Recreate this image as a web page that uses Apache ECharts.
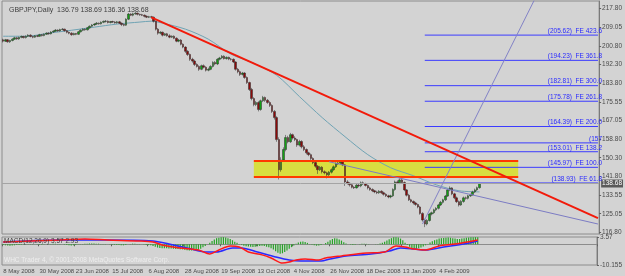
<!DOCTYPE html>
<html><head><meta charset="utf-8">
<script src="https://cdn.jsdelivr.net/npm/echarts@6/dist/echarts.min.js"></script>
<style>html,body{margin:0;padding:0;background:#d3d3d3}#c{width:625px;height:276px}</style>
</head><body><div id="c"></div>
<script>
const tickLabels = ["8 May 2008","30 May 2008","23 Jun 2008","15 Jul 2008","6 Aug 2008","28 Aug 2008","19 Sep 2008","13 Oct 2008","4 Nov 2008","26 Nov 2008","18 Dec 2008","13 Jan 2009","4 Feb 2009"];
const priceTicks = [217.80,209.05,200.80,192.30,183.80,175.55,167.05,158.80,150.30,141.80,133.55,125.05,116.80];
const macdTicks = [3.57,-10.155];
const opens = [203.5,202.9,203.5,202.6,203.2,203.8,204.4,203.9,204.6,205.0,
204.5,205.1,205.6,205.0,204.7,205.3,205.1,205.8,205.4,206.0,
206.5,206.2,207.0,207.4,207.9,207.5,208.1,208.3,207.6,206.9,
206.5,205.8,206.3,206.0,207.1,207.8,208.3,208.0,208.9,209.6,
210.2,210.6,211.0,210.7,211.4,211.8,211.9,211.3,211.7,211.5,
211.2,211.6,211.0,210.4,210.1,212.8,215.1,214.6,215.2,215.5,
215.0,214.8,214.6,214.1,213.7,213.9,213.7,211.9,208.3,206.5,
206.9,205.6,206.2,205.3,204.7,205.1,204.2,202.9,203.4,201.5,
200.2,198.3,196.9,194.7,193.9,192.4,191.5,190.2,191.8,191.1,
189.8,190.2,191.5,193.3,192.6,194.7,195.3,196.1,195.0,195.6,
194.8,194.7,193.5,190.2,189.1,187.9,188.5,186.5,184.2,181.1,
177.0,174.3,175.2,172.1,176.0,177.5,176.2,175.2,173.9,171.2,
168.4,158.5,144.9,149.3,154.0,159.4,157.5,160.7,159.2,158.5,
156.0,157.6,155.2,154.0,152.5,151.7,150.0,148.1,146.5,144.9,
146.0,144.0,143.5,142.6,143.8,144.9,146.2,147.6,147.9,148.5,
147.1,139.4,138.8,138.1,137.0,136.7,137.9,137.6,139.0,138.5,
137.8,136.7,136.0,135.4,134.9,134.5,135.2,134.5,133.8,133.1,
132.6,133.1,136.0,139.4,139.0,140.3,139.1,135.8,133.4,131.3,
130.6,129.9,129.2,128.1,125.2,122.2,120.4,122.0,124.9,125.5,
126.8,127.5,129.0,130.2,131.3,133.0,135.8,136.7,134.0,132.2,
130.5,129.0,130.6,132.2,132.0,133.1,133.6,134.9,135.8,136.79];
const closes = [202.9,203.5,202.6,203.2,203.8,204.4,203.9,204.6,205.0,204.5,
205.1,205.6,205.0,204.7,205.3,205.1,205.8,205.4,206.0,206.5,
206.2,207.0,207.4,207.9,207.5,208.1,208.3,207.6,206.9,206.5,
205.8,206.3,206.0,207.1,207.8,208.3,208.0,208.9,209.6,210.2,
210.6,211.0,210.7,211.4,211.8,211.9,211.3,211.7,211.5,211.2,
211.6,211.0,210.4,210.1,212.8,215.1,214.6,215.2,215.5,215.0,
214.8,214.6,214.1,213.7,213.9,213.7,211.9,208.3,206.5,206.9,
205.6,206.2,205.3,204.7,205.1,204.2,202.9,203.4,201.5,200.2,
198.3,196.9,194.7,193.9,192.4,191.5,190.2,191.8,191.1,189.8,
190.2,191.5,193.3,192.6,194.7,195.3,196.1,195.0,195.6,194.8,
194.7,193.5,190.2,189.1,187.9,188.5,186.5,184.2,181.1,177.0,
174.3,175.2,172.1,176.0,177.5,176.2,175.2,173.9,171.2,168.4,
158.5,144.9,149.3,154.0,159.4,157.5,160.7,159.2,158.5,156.0,
157.6,155.2,154.0,152.5,151.7,150.0,148.1,146.5,144.9,146.0,
144.0,143.5,142.6,143.8,144.9,146.2,147.6,147.9,148.5,147.1,
139.4,138.8,138.1,137.0,136.7,137.9,137.6,139.0,138.5,137.8,
136.7,136.0,135.4,134.9,134.5,135.2,134.5,133.8,133.1,132.6,
133.1,136.0,139.4,139.0,140.3,139.1,135.8,133.4,131.3,130.6,
129.9,129.2,128.1,125.2,122.2,120.4,122.0,124.9,125.5,126.8,
127.5,129.0,130.2,131.3,133.0,135.8,136.7,134.0,132.2,130.5,
129.0,130.6,132.2,132.0,133.1,133.6,134.9,135.8,136.8,138.68];
const highs = [204.0,203.9,203.8,203.5,204.2,204.8,204.8,204.9,205.4,205.3,
205.5,206.0,206.0,205.3,205.6,205.7,206.2,206.1,206.4,206.9,
206.9,207.4,207.8,208.3,208.2,208.5,208.8,208.5,207.9,207.2,
206.9,206.7,206.6,207.5,208.2,208.7,208.6,209.3,210.0,210.6,
211.0,211.5,211.3,211.8,212.2,212.4,212.2,212.0,212.1,211.9,
212.0,212.0,211.3,210.8,213.2,215.6,215.5,215.7,216.0,215.8,
215.3,215.2,214.9,214.5,214.3,214.3,214.0,212.2,208.8,207.4,
207.2,206.6,206.6,206.0,205.5,205.5,204.6,203.9,203.8,201.9,
200.6,198.8,197.3,195.4,194.5,192.9,192.0,192.3,192.4,191.6,
190.9,192.0,193.8,193.9,195.2,195.8,196.6,196.5,196.0,195.9,
195.3,195.1,193.8,190.8,189.6,189.0,188.9,187.0,184.6,181.8,
177.6,175.9,175.8,176.5,178.2,177.9,176.8,175.8,174.4,171.8,
169.0,159.5,150.5,155.0,160.6,160.2,161.5,161.2,160.0,158.9,
158.4,158.2,156.0,154.5,153.0,152.2,150.5,148.6,147.0,146.6,
146.5,144.6,144.0,144.3,145.5,146.8,148.2,148.6,149.2,149.0,
147.5,140.2,139.3,138.6,137.5,138.5,138.5,139.6,139.6,139.0,
138.2,137.2,136.5,135.8,135.4,135.7,135.6,135.0,134.3,133.6,
133.6,136.5,140.0,140.1,141.0,140.8,139.6,136.2,134.0,131.8,
131.0,130.4,129.6,128.6,125.7,122.8,122.6,125.4,126.0,127.3,
128.0,129.5,130.8,131.8,133.5,136.3,137.4,137.0,134.5,132.8,
131.0,131.2,132.8,132.8,133.6,134.1,135.4,136.4,137.3,138.69];
const lows = [202.3,202.5,202.2,202.1,202.8,203.5,203.5,203.5,204.2,204.1,
204.1,204.8,204.6,204.2,204.4,204.7,204.8,205.0,205.1,205.7,
205.8,205.9,206.7,207.1,207.1,207.2,207.8,207.2,206.4,206.0,
205.3,205.5,205.6,205.7,206.8,207.4,207.6,207.7,208.5,209.2,
209.8,210.2,210.3,210.4,211.0,211.3,210.9,210.9,211.1,210.8,
210.8,210.6,209.7,209.6,209.8,212.4,214.2,214.1,214.8,214.5,
214.3,214.2,213.6,213.3,213.3,213.2,211.3,207.7,205.8,206.0,
205.0,205.2,204.9,204.2,204.3,203.8,202.4,202.4,201.0,199.7,
197.6,196.2,194.0,193.2,191.7,191.0,189.5,189.8,190.6,189.2,
189.3,189.8,191.0,192.0,192.1,194.2,194.8,194.6,194.6,194.3,
194.1,193.0,189.6,188.4,187.2,187.4,185.9,183.6,180.4,176.2,
173.5,173.6,171.2,171.5,175.4,175.5,174.6,173.2,170.5,167.5,
157.5,140.5,144.0,148.5,153.2,156.8,157.0,158.5,157.8,155.2,
155.4,154.5,153.3,151.8,151.0,149.3,147.4,145.8,143.0,144.3,
143.2,142.8,141.0,142.0,143.2,144.4,145.7,147.0,147.4,146.5,
137.6,138.2,137.3,136.5,136.2,136.4,137.0,137.0,138.0,137.3,
136.0,135.4,134.8,134.3,133.9,134.0,134.0,133.2,132.6,132.0,
132.0,132.6,135.4,138.4,138.4,138.5,135.2,132.8,130.8,130.0,
129.2,128.6,127.5,124.6,121.5,119.0,119.8,121.5,124.3,124.9,
126.2,127.0,128.5,129.6,130.8,132.6,135.2,133.4,131.6,129.9,
128.3,128.6,130.0,131.4,131.5,132.6,133.1,134.4,135.3,136.36];
const maPoints = [[0,205.1],[10,205.1],[20,206.5],[30,207.8],[40,209.2],[50,210.6],[60,211.5],[65,211.9],[70,211.0],[80,208.3],[90,203.8],[100,197.0],[110,192.9],[120,187.5],[130,177.9],[140,168.4],[150,159.8],[160,151.7],[170,145.8],[180,142.2],[190,138.1],[200,135.4],[209,134.9]];
const macdRed = [[0,1.1],[12,1.6],[25,2.1],[36,2.6],[46,2.1],[60,1.6],[66,1.1],[70,-0.3],[78,-1.8],[86,-2.8],[91,-4.8],[95,-2.8],[100,-0.8],[104,-1.3],[108,-3.8],[114,-5.2],[118,-6.7],[123,-9.2],[126,-8.7],[129,-7.7],[133,-7.2],[139,-7.7],[142,-6.7],[149,-5.7],[160,-4.3],[168,-3.8],[173,-0.8],[177,-1.3],[181,-2.3],[186,-2.8],[192,-0.8],[199,0.1],[209,2.1]];
const macdBlue = [[0,1.1],[25,2.1],[46,2.1],[66,1.6],[73,0.1],[81,-1.8],[90,-3.8],[94,-3.8],[101,-1.8],[105,-1.8],[112,-3.8],[120,-6.2],[126,-7.7],[131,-8.2],[140,-8.2],[144,-7.2],[151,-5.7],[162,-4.8],[170,-3.3],[175,-1.8],[181,-2.3],[186,-2.8],[194,-1.3],[203,0.1],[209,1.6]];
const hist = [-0.3,-0.5,-0.6,-0.7,-0.6,-0.5,-0.4,-0.3,-0.2,-0.1,
0.1,0.2,0.2,0.1,0,-0.1,-0.2,-0.2,-0.1,0,
0.1,0.2,0.3,0.3,0.2,0.1,0,-0.2,-0.4,-0.5,
-0.6,-0.5,-0.3,-0.1,0.1,0.2,0.3,0.3,0.4,0.4,
0.4,0.3,0.3,0.2,0.2,0.1,0,-0.1,-0.2,-0.3,
-0.3,-0.4,-0.5,-0.5,-0.3,0,0.2,0.3,0.3,0.2,
0.1,0,-0.1,-0.3,-0.4,-0.5,-0.8,-1.2,-1.6,-1.8,
-1.9,-2.0,-2.0,-2.1,-2.1,-2.2,-2.3,-2.3,-2.4,-2.5,
-2.7,-2.9,-3.0,-3.0,-2.9,-2.8,-2.6,-2.2,-1.5,-0.8,
0,0.8,1.6,2.4,3.0,3.2,3.4,3.5,3.3,3.0,
2.6,2.0,1.3,0.8,0.2,-0.3,-0.7,-1.0,-1.1,-1.2,
-1.3,-1.2,-1.0,-0.8,-0.7,-0.9,-1.2,-1.5,-2.0,-2.6,
-3.4,-4.2,-4.6,-4.4,-3.8,-3.0,-2.2,-1.4,-0.6,0.3,
0.9,1.3,1.4,1.1,0.7,0.2,-0.2,-0.5,-0.7,-0.6,
-0.4,0,0.6,1.3,2.0,2.6,2.9,2.8,2.4,1.8,
1.0,0.4,0,-0.2,-0.3,-0.2,0,0.2,0.3,0.3,
0.2,0.1,0,0,0.1,0.2,0.4,0.7,1.2,1.8,
2.5,3.0,3.4,3.5,3.3,2.8,2.0,0.8,-0.4,-1.2,
-1.8,-2.1,-2.2,-2.0,-1.6,-1.1,-0.5,0.2,0.9,1.5,
2.0,2.4,2.8,3.0,3.1,3.2,3.3,3.2,3.0,2.8,
2.6,2.6,2.8,3.0,3.2,3.3,3.4,3.5,3.5,3.5];
const fibLevels = [205.62,194.23,182.81,175.78,164.39,157,153.01,145.97,138.93];
const fibTexts = ["(205.62)  FE 423.6","(194.23)  FE 361.8","(182.81)  FE 300.0","(175.78)  FE 261.8","(164.39)  FE 200.0","(157","(153.01)  FE 138.2","(145.97)  FE 100.0","(138.93)  FE 61.8"];
const fibStart = 185;
const redTrend = [[65,213.6],[261,123.1]];
const thinTrend = [[143,148.5],[261,120.4]];
const steepTrend = [[184,120.4],[233,221.3]];
const boxRange = {x0:110, x1:226, top:148.96, bottom:141.7};
const bid = 138.68;
const titleText = "GBPJPY,Daily  136.79 138.69 136.36 138.68";

const N = 262;
const cats = []; for (let i = 0; i < N; i++) cats.push(String(i));
const candles = opens.map((o, i) => [o, closes[i], lows[i], highs[i]]);
const F = 'Liberation Sans';
const txt = '#4a4a4a';

const chart = echarts.init(document.getElementById('c'), null, {renderer: 'canvas'});
const showTick = (i) => i % 16 === 0 && i / 16 < tickLabels.length;
const fibSeries = fibLevels.map((v) => ({
  type: 'line', xAxisIndex: 0, yAxisIndex: 0, data: [[fibStart, v], [N - 1, v]], showSymbol: false, silent: true,
  lineStyle: {color: '#3c3cff', width: 1, type: 'solid'}, z: 2
}));
chart.setOption({
  animation: false,
  backgroundColor: '#d3d3d3',
  title: {text: titleText, left: 4, top: 2, textStyle: {fontSize: 7, fontWeight: 'normal', color: '#404040', fontFamily: F}},
  grid: [
    {left: 2, top: 1, width: 602, height: 233, show: true, borderColor: '#8c8c8c', borderWidth: 1, backgroundColor: 'transparent'},
    {left: 2, top: 237, width: 602, height: 28, show: true, borderColor: '#8c8c8c', borderWidth: 1, backgroundColor: 'transparent'}
  ],
  xAxis: [
    {type: 'category', data: cats, gridIndex: 0, boundaryGap: true, axisLine: {show: false}, axisTick: {show: false}, axisLabel: {show: false}, splitLine: {show: false}},
    {type: 'category', data: cats, gridIndex: 1, boundaryGap: true,
     axisLine: {show: true, lineStyle: {color: '#8c8c8c'}},
     axisTick: {show: true, length: 2, interval: showTick, lineStyle: {color: '#606060'}},
     axisLabel: {show: true, interval: showTick, showMinLabel: true, hideOverlap: false, formatter: (v, i) => tickLabels[Math.round(i / 16)] || '', align: 'left', fontSize: 6, color: txt, fontFamily: F, margin: 3},
     splitLine: {show: false}}
  ],
  yAxis: [
    {type: 'value', gridIndex: 0, position: 'right', min: 115.9, max: 221.0, scale: true,
     axisLine: {show: true, lineStyle: {color: '#7a7a7a'}},
     axisTick: {show: true, length: 2, customValues: priceTicks, lineStyle: {color: '#606060'}},
     axisLabel: {customValues: priceTicks, formatter: (v) => v.toFixed(2), fontSize: 6.5, color: txt, fontFamily: F, margin: 3},
     splitLine: {show: false}},
    {type: 'value', gridIndex: 1, position: 'right', min: -10.155, max: 3.57,
     axisLine: {show: true, lineStyle: {color: '#7a7a7a'}},
     axisTick: {show: true, length: 2, customValues: macdTicks, lineStyle: {color: '#606060'}},
     axisLabel: {customValues: macdTicks, formatter: (v) => String(v), fontSize: 6.5, color: txt, fontFamily: F, margin: 3},
     splitLine: {show: false}}
  ],
  series: [
    {type: 'line', xAxisIndex: 0, yAxisIndex: 0, data: [], silent: true, z: 1,
     markArea: {silent: true, itemStyle: {color: '#d8de40'}, data: [[{coord: [boxRange.x0, boxRange.top]}, {coord: [boxRange.x1, boxRange.bottom]}]]},
     markLine: {silent: true, symbol: 'none', label: {show: false}, lineStyle: {color: '#ff3a00', width: 2, type: 'solid'},
       data: [[{coord: [boxRange.x0, boxRange.top]}, {coord: [boxRange.x1, boxRange.top]}], [{coord: [boxRange.x0, boxRange.bottom]}, {coord: [boxRange.x1, boxRange.bottom]}]]}},
    {type: 'line', xAxisIndex: 0, yAxisIndex: 0, data: [], silent: true, z: 2,
     markLine: {silent: true, symbol: 'none', lineStyle: {color: '#a4a4a4', width: 1, type: 'solid'},
       label: {show: true, position: 'end', formatter: bid.toFixed(2), backgroundColor: '#5a5a5a', color: '#ffffff', fontSize: 6.5, fontFamily: F, padding: [1, 1, 0, 1], distance: 2},
       data: [{yAxis: bid}]}},
    ...fibSeries,
    {type: 'line', name: 'MA', xAxisIndex: 0, yAxisIndex: 0, data: maPoints, showSymbol: false, smooth: 0.3, lineStyle: {color: '#6fa3b4', width: 1}, z: 3},
    {type: 'candlestick', xAxisIndex: 0, yAxisIndex: 0, data: candles, barWidth: 2, z: 4,
     itemStyle: {color: '#12a012', color0: '#8c0a0a', borderColor: '#2a2a2a', borderColor0: '#2a2a2a', borderWidth: 0.5}},
    {type: 'line', xAxisIndex: 0, yAxisIndex: 0, data: thinTrend, showSymbol: false, lineStyle: {color: '#7c7cc4', width: 1}, z: 5},
    {type: 'line', xAxisIndex: 0, yAxisIndex: 0, data: steepTrend, showSymbol: false, lineStyle: {color: '#8282c6', width: 1}, z: 5},
    {type: 'line', xAxisIndex: 0, yAxisIndex: 0, data: redTrend, showSymbol: false, lineStyle: {color: '#f21a0a', width: 2}, z: 6},
    {type: 'bar', xAxisIndex: 1, yAxisIndex: 1, data: hist, barWidth: 1.2, itemStyle: {color: '#26a426'}, z: 2},
    {type: 'line', xAxisIndex: 1, yAxisIndex: 1, data: macdBlue, showSymbol: false, smooth: 0.3, lineStyle: {color: '#2a2aff', width: 1.5}, z: 3},
    {type: 'line', xAxisIndex: 1, yAxisIndex: 1, data: macdRed, showSymbol: false, smooth: 0.3, lineStyle: {color: '#ff1a1a', width: 1.5}, z: 4}
  ]
});
const fibGraphics = fibLevels.map((v, k) => {
  const p = chart.convertToPixel({xAxisIndex: 0, yAxisIndex: 0}, [N - 1, v]);
  return {type: 'text', x: 602, y: p[1] - 0.5, z: 20,
    style: {text: fibTexts[k], fontSize: 6.5, fill: '#2a2aff', fontFamily: F, align: 'right', verticalAlign: 'bottom'}};
});
chart.setOption({
  graphic: [
    {type: 'text', left: 4, top: 238, z: 10, style: {text: 'MACD(12,26,9) 3.57 2.93', fontSize: 6.5, fill: '#404040', fontFamily: F}},
    {type: 'text', left: 4, top: 257, z: 10, style: {text: 'WHC Trader 4, © 2001-2008 MetaQuotes Software Corp.', fontSize: 6.5, fill: '#eeeeee', fontFamily: F}},
    ...fibGraphics
  ]
});
</script>
</body></html>
